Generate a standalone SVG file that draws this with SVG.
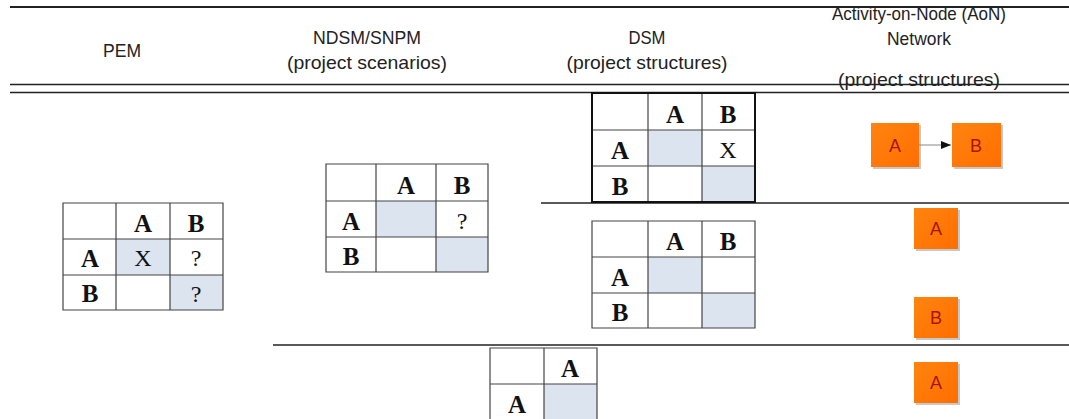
<svg xmlns="http://www.w3.org/2000/svg" width="1069" height="419" viewBox="0 0 1069 419">
<style>
.hdr{font-family:"Liberation Sans",Arial,sans-serif;font-size:19px;fill:#222;text-anchor:middle}
.rule{stroke:#222;fill:none}
.grid{stroke:#444;stroke-width:1.2;fill:none}
.cell{fill:#fff}
.sh{fill:#dce4f0}
.lbl{font-family:"Liberation Serif","Times New Roman",serif;font-size:25px;font-weight:bold;fill:#111;text-anchor:middle}
.val{font-family:"Liberation Serif","Times New Roman",serif;font-size:24px;fill:#111;text-anchor:middle}
.box{fill:url(#og)}
.shadow{fill:#c8c8c8}
.bt{font-family:"Liberation Sans",Arial,sans-serif;font-size:18px;fill:#a81500;text-anchor:middle}
</style>
<defs>
<linearGradient id="og" x1="0" y1="0" x2="1" y2="1">
<stop offset="0" stop-color="#ff8410"/>
<stop offset="1" stop-color="#ff6e00"/>
</linearGradient>
<marker id="arr" markerWidth="10" markerHeight="8" refX="10" refY="4" orient="auto" markerUnits="userSpaceOnUse">
<path d="M0,0 L10,4 L0,8 Z" fill="#111"/>
</marker>
</defs>
<g id="rules">
<line class="rule" x1="10" y1="7" x2="1069" y2="7" stroke-width="2.2"/>
<line class="rule" x1="10" y1="84.5" x2="1069" y2="84.5" stroke-width="1.4" stroke="#555"/>
<line class="rule" x1="10" y1="92.5" x2="1069" y2="92.5" stroke-width="1.4"/>
<line class="rule" x1="541" y1="203" x2="1069" y2="203" stroke-width="1.4" stroke="#444"/>
<line class="rule" x1="273" y1="345" x2="1069" y2="345" stroke-width="1.4"/>
</g>
<g id="headers">
<text class="hdr" x="122" y="57" textLength="38" lengthAdjust="spacingAndGlyphs">PEM</text>
<text class="hdr" x="367" y="44" textLength="108" lengthAdjust="spacingAndGlyphs">NDSM/SNPM</text>
<text class="hdr" x="367" y="69" textLength="160" lengthAdjust="spacingAndGlyphs">(project scenarios)</text>
<text class="hdr" x="647" y="44" textLength="37" lengthAdjust="spacingAndGlyphs">DSM</text>
<text class="hdr" x="647" y="69" textLength="161" lengthAdjust="spacingAndGlyphs">(project structures)</text>
<text class="hdr" x="919" y="20" textLength="174" lengthAdjust="spacingAndGlyphs">Activity-on-Node (AoN)</text>
<text class="hdr" x="919" y="45" textLength="64" lengthAdjust="spacingAndGlyphs">Network</text>
<text class="hdr" x="919" y="86" textLength="162" lengthAdjust="spacingAndGlyphs">(project structures)</text>
</g>
<g id="pem">
<rect class="cell" x="63" y="203" width="160" height="107"/>
<rect class="sh" x="116" y="239" width="54" height="36"/>
<rect class="sh" x="170" y="275" width="53" height="35"/>
<path class="grid" d="M63,203H223V310H63Z M116,203V310 M170,203V310 M63,239H223 M63,275H223"/>
<text class="lbl" x="143" y="232">A</text><text class="lbl" x="196" y="232">B</text>
<text class="lbl" x="90" y="267">A</text><text class="val" x="143" y="266">X</text><text class="val" x="196" y="266">?</text>
<text class="lbl" x="90" y="302">B</text><text class="val" x="196" y="302">?</text>
</g>
<g id="ndsm">
<rect class="cell" x="326" y="164" width="162" height="108"/>
<rect class="sh" x="376" y="201" width="60" height="36"/>
<rect class="sh" x="436" y="237" width="52" height="35"/>
<path class="grid" d="M326,164H488V272H326Z M376,164V272 M436,164V272 M326,201H488 M326,237H488"/>
<text class="lbl" x="406" y="194">A</text><text class="lbl" x="462" y="194">B</text>
<text class="lbl" x="351" y="230">A</text><text class="val" x="462" y="229">?</text>
<text class="lbl" x="351" y="265">B</text>
</g>
<g id="dsm1">
<rect class="cell" x="592" y="93" width="163" height="109"/>
<rect class="sh" x="648" y="130" width="54" height="36"/>
<rect class="sh" x="702" y="166" width="53" height="36"/>
<path class="grid" d="M648,93V202 M702,93V202 M592,130H755 M592,166H755"/>
<rect x="592" y="93" width="163" height="109" fill="none" stroke="#111" stroke-width="2"/>
<text class="lbl" x="675" y="123">A</text><text class="lbl" x="728" y="123">B</text>
<text class="lbl" x="620" y="159">A</text><text class="val" x="728" y="158">X</text>
<text class="lbl" x="620" y="195">B</text>
</g>
<g id="dsm2">
<rect class="cell" x="592" y="221" width="163" height="107"/>
<rect class="sh" x="648" y="257" width="54" height="36"/>
<rect class="sh" x="702" y="293" width="53" height="35"/>
<path class="grid" d="M592,221H755V328H592Z M648,221V328 M702,221V328 M592,257H755 M592,293H755"/>
<text class="lbl" x="675" y="250">A</text><text class="lbl" x="728" y="250">B</text>
<text class="lbl" x="620" y="286">A</text>
<text class="lbl" x="620" y="321">B</text>
</g>
<g id="single">
<rect class="cell" x="490" y="348" width="107" height="75"/>
<rect class="sh" x="544" y="384" width="53" height="40"/>
<path class="grid" d="M490,425V348H597V425 M544,348V425 M490,384H597"/>
<text class="lbl" x="570" y="377">A</text>
<text class="lbl" x="517" y="413">A</text>
</g>
<g id="aon-a1">
<rect class="shadow" x="873" y="125" width="48" height="44"/>
<rect class="box" x="871" y="123" width="48" height="44"/>
<text class="bt" x="895" y="152">A</text>
</g>
<g id="aon-b1">
<rect class="shadow" x="954" y="125" width="49" height="44"/>
<rect class="box" x="952" y="123" width="49" height="44"/>
<text class="bt" x="976" y="152">B</text>
</g>
<g id="aon-a2">
<rect class="shadow" x="916" y="210" width="44" height="41"/>
<rect class="box" x="914" y="208" width="44" height="41"/>
<text class="bt" x="936" y="235">A</text>
</g>
<g id="aon-b2">
<rect class="shadow" x="916" y="299" width="44" height="41"/>
<rect class="box" x="914" y="297" width="44" height="41"/>
<text class="bt" x="936" y="324">B</text>
</g>
<g id="aon-a3">
<rect class="shadow" x="916" y="364" width="44" height="41"/>
<rect class="box" x="914" y="362" width="44" height="41"/>
<text class="bt" x="936" y="389">A</text>
</g>
<g id="connectors">
<line x1="919" y1="145" x2="951" y2="145" stroke="#888" stroke-width="1" marker-end="url(#arr)"/>
</g>
</svg>
